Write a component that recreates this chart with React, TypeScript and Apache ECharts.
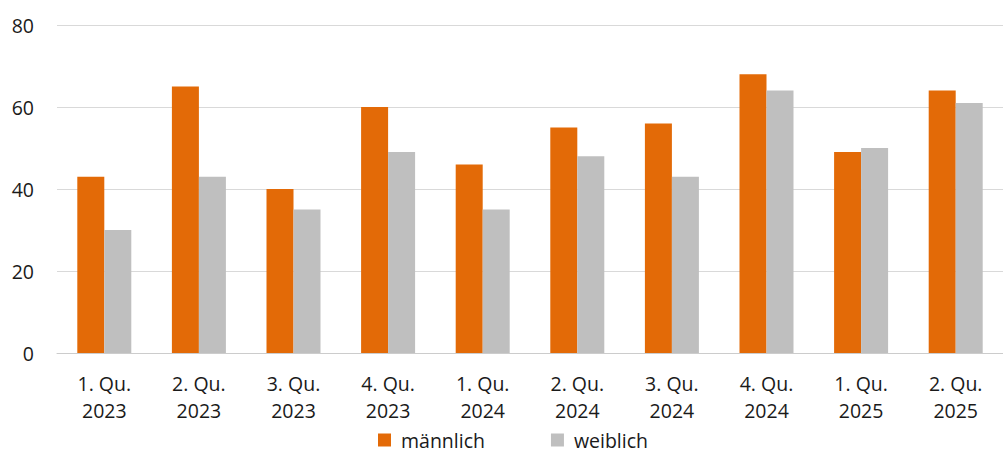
import React, { useEffect, useRef } from "react";
import * as echarts from "echarts";

const categories = [
  "1. Qu.\n2023", "2. Qu.\n2023", "3. Qu.\n2023", "4. Qu.\n2023",
  "1. Qu.\n2024", "2. Qu.\n2024", "3. Qu.\n2024", "4. Qu.\n2024",
  "1. Qu.\n2025", "2. Qu.\n2025",
];
const maennlich = [43, 65, 40, 60, 46, 55, 56, 68, 49, 64];
const weiblich = [30, 43, 35, 49, 35, 48, 43, 64, 50, 61];
const seriesNames = ["männlich", "weiblich"];

const FONT = "'Open Sans', 'Noto Sans', sans-serif";

export default function App() {
  const ref = useRef<HTMLDivElement>(null);
  useEffect(() => {
    document.body.style.margin = "0";
    const chart = echarts.init(ref.current!, null, { renderer: "svg" });
    chart.setOption({
      animation: false,
      textStyle: { fontFamily: FONT },
      grid: { left: 57, right: 0, top: 25, bottom: 101, containLabel: false },
      legend: {
        top: 430,
        left: 378,
        padding: 0,
        itemWidth: 13,
        itemHeight: 13,
        itemGap: 66,
        icon: "rect",
        textStyle: {
          fontSize: 19.5,
          lineHeight: 20,
          color: "#1a1a1a",
          fontFamily: FONT,
          padding: [0, 0, 0, 5],
        },
        data: seriesNames,
      },
      xAxis: {
        type: "category",
        data: categories,
        axisLine: { show: true, lineStyle: { color: "#cccccc", width: 1 } },
        axisTick: { show: false },
        axisLabel: {
          fontSize: 19.5,
          color: "#1a1a1a",
          lineHeight: 27,
          margin: 17,
          interval: 0,
        },
      },
      yAxis: {
        type: "value",
        min: 0,
        max: 80,
        interval: 20,
        axisLine: { show: false },
        axisTick: { show: false },
        splitLine: { lineStyle: { color: "#d9d9d9", width: 1 } },
        axisLabel: { fontSize: 19.5, color: "#1a1a1a", margin: 23 },
      },
      series: [
        {
          name: seriesNames[0],
          type: "bar",
          data: maennlich,
          barWidth: 27,
          barGap: "0%",
          itemStyle: { color: "#E36A07" },
        },
        {
          name: seriesNames[1],
          type: "bar",
          data: weiblich,
          barWidth: 27,
          barGap: "0%",
          itemStyle: { color: "#BFBFBF" },
        },
      ],
    });
    return () => chart.dispose();
  }, []);
  return <div ref={ref} style={{ width: 1003, height: 454 }} />;
}
